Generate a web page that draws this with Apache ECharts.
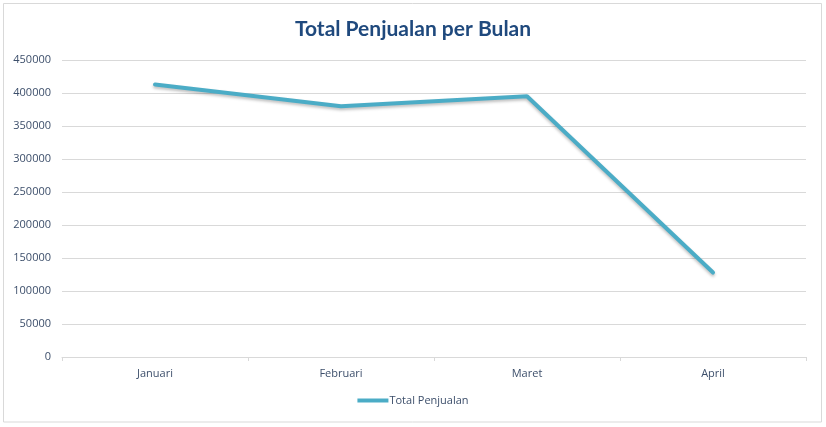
<!DOCTYPE html>
<html>
<head>
<meta charset="utf-8">
<script src="https://cdn.jsdelivr.net/npm/echarts@6/dist/echarts.min.js"></script>
<style>
  html, body { margin: 0; padding: 0; background: #fff; }
  #chart { width: 826px; height: 427px; }
</style>
</head>
<body>
<div id="chart"></div>
<script>
// data
var bulan = ['Januari', 'Februari', 'Maret', 'April'];
var totalPenjualan = [413000, 380000, 395000, 128000];
var namaSeri = 'Total Penjualan';
var judul = 'Total Penjualan per Bulan';

var warnaTeks = '#3d4f6b';
var warnaGaris = '#4bacc6';
var warnaGrid = '#d9d9d9';

var chart = echarts.init(document.getElementById('chart'));
var option = {
  backgroundColor: '#fff',
  animation: false,
  title: {
    text: judul,
    left: 'center',
    top: 14,
    textStyle: {
      fontFamily: 'Lato',
      fontWeight: 'bold',
      fontSize: 21,
      color: '#1f497d'
    }
  },
  graphic: [{
    type: 'rect',
    shape: { x: 3.5, y: 3.5, width: 818, height: 418.5 },
    style: { fill: 'none', stroke: warnaGrid, lineWidth: 1 },
    silent: true
  }],
  legend: {
    bottom: 16,
    left: 'center',
    itemWidth: 31,
    itemHeight: 4,
    itemGap: 10,
    icon: 'rect',
    data: [namaSeri],
    textStyle: { fontFamily: 'Open Sans', fontSize: 11, color: warnaTeks, padding: [0, 0, 0, -4] }
  },
  grid: {
    left: 62,
    right: 20,
    top: 60,
    bottom: 70
  },
  xAxis: {
    type: 'category',
    data: bulan,
    boundaryGap: true,
    axisLine: { lineStyle: { color: warnaGrid } },
    axisTick: { show: true, length: 4, lineStyle: { color: warnaGrid } },
    axisLabel: { fontFamily: 'Open Sans', fontSize: 11, color: warnaTeks, margin: 11 }
  },
  yAxis: {
    type: 'value',
    min: 0,
    max: 450000,
    interval: 50000,
    axisLine: { show: false },
    axisTick: { show: false },
    axisLabel: {
      fontFamily: 'Open Sans', fontSize: 11, color: warnaTeks, margin: 11,
      formatter: function (v) { return String(v); }
    },
    splitLine: { lineStyle: { color: warnaGrid } }
  },
  series: [{
    name: namaSeri,
    type: 'line',
    data: totalPenjualan,
    symbol: 'none',
    color: warnaGaris,
    lineStyle: {
      width: 4,
      color: warnaGaris,
      cap: 'round',
      shadowColor: 'rgba(0,0,0,0.25)',
      shadowBlur: 3,
      shadowOffsetY: 2
    }
  }]
};
chart.setOption(option);
</script>
</body>
</html>
